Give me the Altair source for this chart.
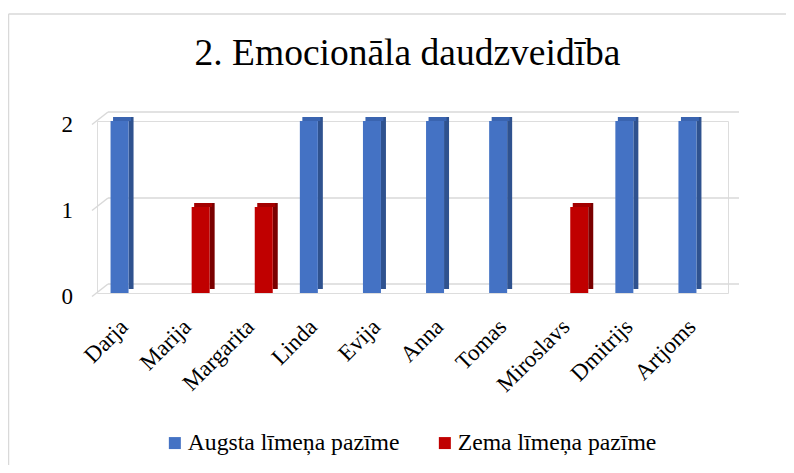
import altair as alt
import pandas as pd

# ---- data ----
names = ["Darja", "Marija", "Margarita", "Linda", "Evija", "Anna", "Tomas",
         "Miroslavs", "Dmitrijs", "Artjoms"]
series_names = ["Augsta līmeņa pazīme", "Zema līmeņa pazīme"]
high_values = [2, None, None, 2, 2, 2, 2, None, 2, 2]
low_values = [None, 1, 1, None, None, None, None, 1, None, None]
y_ticks = [0, 1, 2]

front_colors = ["#4472C4", "#C00000"]
side_colors = ["#2F528F", "#7A0000"]
top_colors = ["#3A64B0", "#A30000"]

FONT = "Liberation Serif"
W, H = 631, 172

rows = []
for n, hv, lv in zip(names, high_values, low_values):
    if hv is not None:
        rows.append({"name": n, "series": series_names[0], "value": hv})
    if lv is not None:
        rows.append({"name": n, "series": series_names[1], "value": lv})
df = pd.DataFrame(rows)
grid_df = pd.DataFrame({"tick": y_ticks})

x_enc = alt.X(
    "name:N",
    sort=names,
    scale=alt.Scale(domain=names, paddingInner=0.4, paddingOuter=0.2),
    axis=alt.Axis(title=None, labelAngle=-45, domain=False, ticks=False,
                  labelFont=FONT, labelFontSize=23, labelColor="#000000",
                  labelPadding=22, labelOffset=-12, labelAlign="right",
                  labelBaseline="top", labelOverlap=False),
)
y_scale = alt.Scale(domain=[0, 2], nice=False, zero=True)
y_enc = alt.Y("value:Q", scale=y_scale, axis=None)
y_tick_enc = alt.Y("tick:Q", scale=y_scale, axis=None)

# gridlines (back wall + left wall diagonals)
back_grid = alt.Chart(grid_df).mark_rule(color="#D9D9D9", strokeWidth=1.5, yOffset=-9).encode(
    y=y_tick_enc,
    x=alt.value(11), x2=alt.value(W + 11),
)
side_grid = alt.Chart(grid_df).mark_rule(color="#D9D9D9", strokeWidth=1.5,
                                          yOffset=3.5, y2Offset=-9).encode(
    y=y_tick_enc,
    y2=alt.Y2("tick:Q"),
    x=alt.value(-5), x2=alt.value(11),
)
# value-axis labels, placed at the front edge of the floor/wall
y_labels = alt.Chart(grid_df).mark_text(
    align="right", baseline="middle", font=FONT, fontSize=23, color="#000000", dy=4
).encode(y=y_tick_enc, x=alt.value(-24), text=alt.Text("tick:Q", format="d"))

# outer frame of the chart
frame_df = pd.DataFrame({"k": [0]})
frame_top = alt.Chart(frame_df).mark_rule(color="#D9D9D9", strokeWidth=1.5).encode(
    x=alt.value(-88.5), x2=alt.value(W + 60), y=alt.value(-107)
)
frame_left = alt.Chart(frame_df).mark_rule(color="#D9D9D9", strokeWidth=1.5).encode(
    x=alt.value(-88.5), y=alt.value(-107), y2=alt.value(H + 200)
)

color_enc = alt.Color(
    "series:N",
    scale=alt.Scale(domain=series_names, range=front_colors),
    legend=alt.Legend(title=None, orient="none", direction="horizontal",
                      legendX=66, legendY=310, symbolType="square", symbolSize=144,
                      symbolStrokeWidth=0, labelFont=FONT, labelFontSize=23.7,
                      labelColor="#000000", labelOffset=1, columnPadding=33,
                      labelLimit=0, padding=0),
)


def bar_layers(i, shift):
    sub = alt.Chart(df).transform_filter(alt.datum.series == series_names[i])
    side = sub.mark_bar(width=5, xOffset=shift + 11.5, yOffset=-4, y2Offset=-2,
                        color=side_colors[i]).encode(x=x_enc, y=y_enc)
    top = sub.mark_bar(width=18, xOffset=shift + 2.5, yOffset=-4, y2Offset=0,
                       color=top_colors[i]).encode(x=x_enc, y=y_enc,
                                                   y2=alt.Y2("value:Q"))
    front = sub.mark_bar(width=18, xOffset=shift).encode(x=x_enc, y=y_enc, color=color_enc)
    return [side, top, front]


layers = [frame_top, frame_left, back_grid, side_grid, y_labels]
layers += bar_layers(0, -9)
layers += bar_layers(1, 9)

chart = alt.layer(*layers).properties(
    width=W,
    height=H,
    title=alt.TitleParams("2. Emocionāla daudzveidība", font=FONT, fontSize=37.5,
                          fontWeight="normal", color="#000000", anchor="middle",
                          dx=-5, offset=-59),
    autosize=alt.AutoSizeParams(type="none"),
    padding={"left": 89, "top": 113, "right": 58, "bottom": 172},
).configure_view(stroke=None).configure(background="white")

chart.save("out.html", embed_options={"renderer": "svg", "actions": False})
